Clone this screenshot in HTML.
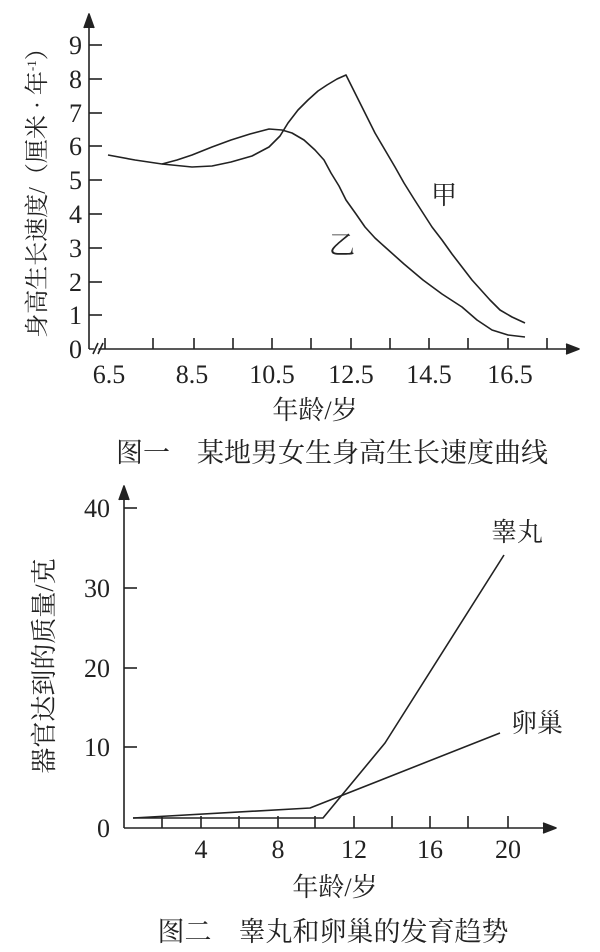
<!DOCTYPE html>
<html><head><meta charset="utf-8"><style>
html,body{margin:0;padding:0;background:#fff;}
svg{display:block;}
text{font-family:"Liberation Serif","Noto Serif CJK SC",serif;fill:#222;}
.c{font-family:"Liberation Serif","Noto Serif CJK SC",serif;}
</style></head><body>
<svg width="600" height="952" viewBox="0 0 600 952" xmlns="http://www.w3.org/2000/svg">
<g stroke="#222" stroke-width="1.6" fill="none" stroke-linejoin="round">
<line x1="89" y1="20" x2="89" y2="349"/>
<line x1="89" y1="349" x2="572" y2="349"/>
<path d="M84,28 L89,14 L94,28" fill="#222"/>
<path d="M566,344 L579,349 L566,354" fill="#222"/>
<g>
<line x1="89" y1="45" x2="102" y2="45"/><line x1="89" y1="79" x2="102" y2="79"/>
<line x1="89" y1="113" x2="102" y2="113"/><line x1="89" y1="146" x2="102" y2="146"/>
<line x1="89" y1="180" x2="102" y2="180"/><line x1="89" y1="214" x2="102" y2="214"/>
<line x1="89" y1="248" x2="102" y2="248"/><line x1="89" y1="282" x2="102" y2="282"/>
<line x1="89" y1="315" x2="102" y2="315"/>
</g>
<g>
<line x1="105" y1="349" x2="105" y2="338"/><line x1="153" y1="349" x2="153" y2="338"/>
<line x1="194" y1="349" x2="194" y2="338"/><line x1="233" y1="349" x2="233" y2="338"/>
<line x1="272" y1="349" x2="272" y2="338"/><line x1="311" y1="349" x2="311" y2="338"/>
<line x1="351" y1="349" x2="351" y2="338"/><line x1="390" y1="349" x2="390" y2="338"/>
<line x1="429" y1="349" x2="429" y2="338"/><line x1="468" y1="349" x2="468" y2="338"/>
<line x1="508" y1="349" x2="508" y2="338"/><line x1="547" y1="349" x2="547" y2="338"/>
</g>
<line x1="94" y1="354" x2="99" y2="343" stroke="#fff" stroke-width="4"/>
<line x1="93" y1="354" x2="98" y2="343"/><line x1="98" y1="354" x2="103" y2="343"/>
<polyline points="108,155 135,160 162,164 192,167 212,166 231,162 252,156 269,147 280,136 288,123 298,110 308,100 318,91 327,85 337,79 346,75 362,107 375,133 385,150 395,167 404,183 414,199 423,213 432,227 442,240 452,254 462,267 472,280 481,290 490,300 500,310 512,317 525,323"/>
<polyline points="162,164 177,160 192,155 212,147 231,140 250,134 269,129 282,130 292,133 304,140 315,150 324,160 331,173 339,186 346,200 356,214 365,227 375,238 385,247 404,264 423,280 442,294 462,307 477,320 492,330 508,335 525,337"/>
<line x1="124" y1="492" x2="124" y2="828"/>
<line x1="124" y1="828" x2="550" y2="828"/>
<path d="M119,500 L124,486 L129,500" fill="#222"/>
<path d="M543,823 L556,828 L543,833" fill="#222"/>
<line x1="124" y1="508" x2="137" y2="508"/><line x1="124" y1="588" x2="137" y2="588"/>
<line x1="124" y1="668" x2="137" y2="668"/><line x1="124" y1="747" x2="137" y2="747"/>
<g>
<line x1="162" y1="828" x2="162" y2="816"/><line x1="201" y1="828" x2="201" y2="816"/>
<line x1="239" y1="828" x2="239" y2="816"/><line x1="278" y1="828" x2="278" y2="816"/>
<line x1="315" y1="828" x2="315" y2="816"/><line x1="354" y1="828" x2="354" y2="816"/>
<line x1="392" y1="828" x2="392" y2="816"/><line x1="430" y1="828" x2="430" y2="816"/>
<line x1="468" y1="828" x2="468" y2="816"/><line x1="508" y1="828" x2="508" y2="816"/>
</g>
<polyline points="133,818 310,808 500,733"/>
<polyline points="133,818 323,818 385,743 504,555"/>
</g>
<g font-size="26">
<g transform="translate(0,0)">
<text x="82" y="54" text-anchor="end">9</text><text x="82" y="88" text-anchor="end">8</text>
<text x="82" y="122" text-anchor="end">7</text><text x="82" y="155" text-anchor="end">6</text>
<text x="82" y="189" text-anchor="end">5</text><text x="82" y="223" text-anchor="end">4</text>
<text x="82" y="257" text-anchor="end">3</text><text x="82" y="291" text-anchor="end">2</text>
<text x="82" y="324" text-anchor="end">1</text><text x="82" y="358" text-anchor="end">0</text>
</g>
<text x="109" y="383" text-anchor="middle">6.5</text><text x="192" y="383" text-anchor="middle">8.5</text>
<text x="272" y="383" text-anchor="middle">10.5</text><text x="351" y="383" text-anchor="middle">12.5</text>
<text x="429" y="383" text-anchor="middle">14.5</text><text x="510" y="383" text-anchor="middle">16.5</text>
<text x="444" y="204" text-anchor="middle" class="c" font-size="26">甲</text>
<text x="342" y="254" text-anchor="middle" class="c" font-size="26">乙</text>
<text x="315" y="419" text-anchor="middle" class="c" font-size="26">年龄/岁</text>
<text x="332" y="462" text-anchor="middle" class="c" font-size="27">图一　某地男女生身高生长速度曲线</text>
<text transform="translate(45,187) rotate(-90)" text-anchor="middle" class="c" font-size="24">身高生长速度/（厘米 · 年<tspan font-size="13" dy="-9">-1</tspan><tspan dy="9">）</tspan></text>

<text x="110" y="517" text-anchor="end">40</text><text x="110" y="597" text-anchor="end">30</text>
<text x="110" y="677" text-anchor="end">20</text><text x="110" y="756" text-anchor="end">10</text>
<text x="110" y="837" text-anchor="end">0</text>
<text x="201" y="858" text-anchor="middle">4</text><text x="278" y="858" text-anchor="middle">8</text>
<text x="354" y="858" text-anchor="middle">12</text><text x="430" y="858" text-anchor="middle">16</text>
<text x="508" y="858" text-anchor="middle">20</text>
<text x="517" y="541" text-anchor="middle" class="c" font-size="26">睾丸</text>
<text x="537" y="732" text-anchor="middle" class="c" font-size="26">卵巢</text>
<text x="335" y="896" text-anchor="middle" class="c" font-size="26">年龄/岁</text>
<text x="333" y="941" text-anchor="middle" class="c" font-size="27">图二　睾丸和卵巢的发育趋势</text>
<text transform="translate(53,666) rotate(-90)" text-anchor="middle" class="c" font-size="26">器官达到的质量/克</text>
</g>
</svg>
</body></html>
